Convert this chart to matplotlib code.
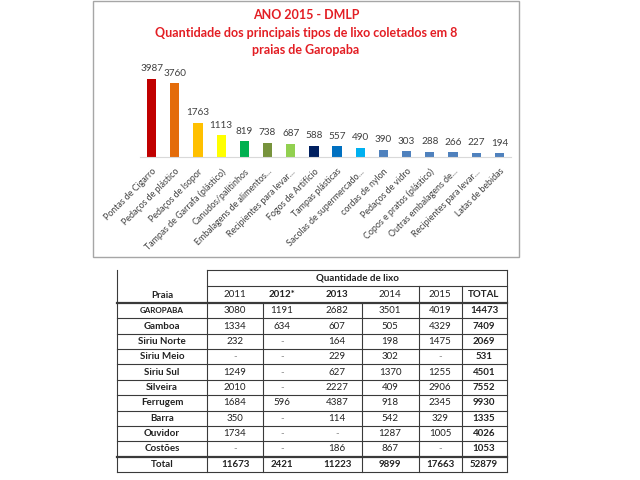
import numpy as np
import matplotlib
matplotlib.use('Agg')
import matplotlib.pyplot as plt
from matplotlib.patches import Rectangle

plt.rcParams['font.family'] = ['Lato', 'DejaVu Sans']

# dados do gráfico (2015)
tipos = ['Pontas de Cigarro', 'Pedaços de plástico', 'Pedaços de Isopor',
         'Tampas de Garrafa (plástico)', 'Canudos/palitinhos',
         'Embalagens de alimentos...', 'Recipientes para levar...',
         'Fogos de Artifício', 'Tampas plásticas', 'Sacolas de supermercado...',
         'cordas de nylon', 'Pedaços de vidro', 'Copos e pratos (plástico)',
         'Outras embalagens de...', 'Recipientes para levar...', 'Latas de bebidas']
quantidades = [3987, 3760, 1763, 1113, 819, 738, 687, 588, 557, 490, 390, 303, 288, 266, 227, 194]
cores = ['#C00000', '#E46C0A', '#FFC000', '#FFFF00', '#00B050', '#77933C', '#92D050',
         '#002060', '#0070C0', '#00B0F0', '#4F81BD', '#4F81BD', '#4F81BD', '#4F81BD',
         '#4F81BD', '#4F81BD']

# dados da tabela
anos = ['2011', '2012*', '2013', '2014', '2015', 'TOTAL']
anos_bold = [False, True, True, False, False, True]
praias = ['GAROPABA', 'Gamboa', 'Siriu Norte', 'Siriu Meio', 'Siriu Sul', 'Silveira',
          'Ferrugem', 'Barra', 'Ouvidor', 'Costões', 'Total']
valores = [
    ['3080', '1191', '2682', '3501', '4019', '14473'],
    ['1334', '634', '607', '505', '4329', '7409'],
    ['232', '-', '164', '198', '1475', '2069'],
    ['-', '-', '229', '302', '-', '531'],
    ['1249', '-', '627', '1370', '1255', '4501'],
    ['2010', '-', '2227', '409', '2906', '7552'],
    ['1684', '596', '4387', '918', '2345', '9930'],
    ['350', '-', '114', '542', '329', '1335'],
    ['1734', '-', '-', '1287', '1005', '4026'],
    ['-', '-', '186', '867', '-', '1053'],
    ['11673', '2421', '11223', '9899', '17663', '52879'],
]

fig = plt.figure(figsize=(6.4, 4.8), dpi=100)

# camada de fundo em pixels p/ moldura e tabela
bg = fig.add_axes([0, 0, 1, 1])
bg.set_xlim(0, 640)
bg.set_ylim(480, 0)
bg.axis('off')
bg.add_patch(Rectangle((93, 1), 426, 256, fill=False, ec='#A6A6A6', lw=1))

red = '#E31E24'
bg.text(306, 15, 'ANO 2015 - DMLP', color=red, fontsize=9, fontweight='bold', ha='center', va='center')
bg.text(306, 33, 'Quantidade dos principais tipos de lixo coletados em 8', color=red,
        fontsize=9, fontweight='bold', ha='center', va='center')
bg.text(306, 50, 'praias de Garopaba', color=red, fontsize=9, fontweight='bold', ha='center', va='center')

# grafico de barras
ax = fig.add_axes([140 / 640, (480 - 157.3) / 480, 371 / 640, 88.4 / 480])
x = np.arange(len(quantidades))
ax.bar(x, quantidades, width=0.4, color=cores)
for xi, q in zip(x, quantidades):
    ax.text(xi, q + 280, str(q), ha='center', va='bottom', fontsize=7.2, color='#404040')
ax.set_xlim(-0.5, len(quantidades) - 0.5)
ax.set_ylim(0, 4500)
ax.set_yticks([])
for s in ['left', 'right', 'top']:
    ax.spines[s].set_visible(False)
ax.spines['bottom'].set_color('#D9D9D9')
ax.set_xticks(x)
ax.set_xticklabels(tipos, rotation=45, ha='right', rotation_mode='anchor', fontsize=6.4, color='#404040')
ax.tick_params(axis='x', length=0, pad=7)
ax.patch.set_alpha(0)

# tabela
left, right = 117, 507
cols = [207, 263, 312, 362, 419, 462, 507]
centros = [235, 282, 337, 390, 440, 484]
top, y_q, y_h = 270, 286, 303
bottom = 472
rh = (bottom - y_h) / len(praias)
lc = '#3A3A3A'

bg.plot([left, left], [top, bottom], color=lc, lw=0.8)
bg.plot([cols[0], right], [top, top], color=lc, lw=0.8)
bg.plot([cols[0], right], [y_q, y_q], color=lc, lw=0.8)
bg.plot([right, right], [top, bottom], color=lc, lw=0.8)
bg.plot([cols[0], cols[0]], [top, bottom], color=lc, lw=0.8)
for cx in [cols[4], cols[5]]:
    bg.plot([cx, cx], [y_q, bottom], color=lc, lw=0.8)
for cx in [cols[1], cols[3]]:
    bg.plot([cx, cx], [y_h, bottom], color=lc, lw=0.8)
for i in range(len(praias) + 1):
    yy = y_h + i * rh
    lw = 1.6 if i in (0, len(praias) - 1) else 0.8
    bg.plot([left, right], [yy, yy], color=lc, lw=lw)

bg.text((cols[0] + right) / 2, (top + y_q) / 2, 'Quantidade de lixo', fontsize=7, fontweight='bold',
        ha='center', va='center', color='#222222')
bg.text((left + cols[0]) / 2, y_h - 8, 'Praia', fontsize=7, fontweight='bold', ha='center', va='center',
        color='#222222')
for cx, a, b in zip(centros, anos, anos_bold):
    bg.text(cx, (y_q + y_h) / 2, a, fontsize=7, fontweight='bold' if b else 'normal', ha='center',
            va='center', color='#222222')

for i, (p, linha) in enumerate(zip(praias, valores)):
    yc = y_h + (i + 0.5) * rh
    total_row = (i == len(praias) - 1)
    bg.text((left + cols[0]) / 2, yc, p, fontsize=5.8 if p == 'GAROPABA' else 7, fontweight='bold',
            ha='center', va='center', color='#222222')
    for j, (cx, v) in enumerate(zip(centros, linha)):
        bold = total_row or j == len(linha) - 1
        bg.text(cx, yc, v, fontsize=7, fontweight='bold' if bold else 'normal', ha='center', va='center',
                color='#888888' if v == '-' else '#222222')

fig.savefig('out.png', dpi=100)
